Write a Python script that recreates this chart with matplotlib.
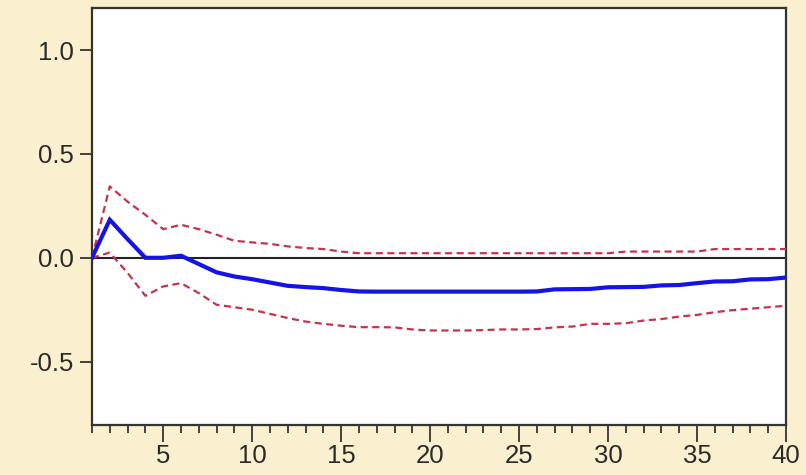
import matplotlib
matplotlib.use("Agg")
import matplotlib.pyplot as plt
from matplotlib.ticker import MultipleLocator

periods = list(range(1, 41))
response = [0.0, 0.183, 0.09, 0.0, 0.0, 0.01, -0.03, -0.07, -0.09, -0.103,
            -0.119, -0.135, -0.141, -0.146, -0.155, -0.162, -0.163, -0.163, -0.163, -0.163,
            -0.163, -0.163, -0.163, -0.163, -0.163, -0.162, -0.152, -0.151, -0.150, -0.142,
            -0.141, -0.140, -0.133, -0.131, -0.122, -0.114, -0.113, -0.104, -0.103, -0.095]
upper = [0.0, 0.344, 0.27, 0.207, 0.138, 0.159, 0.138, 0.111, 0.082, 0.074,
         0.067, 0.055, 0.047, 0.042, 0.030, 0.022, 0.022, 0.022, 0.022, 0.022,
         0.022, 0.022, 0.022, 0.022, 0.022, 0.022, 0.022, 0.022, 0.022, 0.022,
         0.030, 0.030, 0.030, 0.030, 0.030, 0.042, 0.042, 0.042, 0.042, 0.042]
lower = [0.0, 0.025, -0.073, -0.183, -0.138, -0.122, -0.17, -0.226, -0.238, -0.25,
         -0.27, -0.29, -0.307, -0.318, -0.327, -0.334, -0.334, -0.335, -0.345, -0.35,
         -0.35, -0.35, -0.348, -0.345, -0.345, -0.343, -0.335, -0.331, -0.318, -0.318,
         -0.315, -0.302, -0.295, -0.283, -0.275, -0.262, -0.252, -0.245, -0.238, -0.231]
y_ticks = [-0.5, 0.0, 0.5, 1.0]
x_major = [5, 10, 15, 20, 25, 30, 35, 40]

bg = "#FAF0CF"
fig = plt.figure(figsize=(8.06, 4.75), dpi=100, facecolor=bg)
ax = fig.add_axes([92/806, 1-425/475, (786-92)/806, (425-7.5)/475])
ax.set_facecolor("white")

ax.axhline(0, color="#222222", lw=1.5, zorder=2)
ax.plot(periods, upper, color="#C8324A", lw=1.6, ls=(0, (3.2, 2.0)), zorder=3)
ax.plot(periods, lower, color="#C8324A", lw=1.6, ls=(0, (3.2, 2.0)), zorder=3)
ax.plot(periods, response, color="#1414E6", lw=3.0, zorder=4, solid_joinstyle="miter")

ax.set_xlim(1, 40)
ax.set_ylim(-0.805, 1.205)
ax.set_yticks(y_ticks)
ax.set_yticklabels(["-0.5", "0.0", "0.5", "1.0"])
ax.set_xticks(x_major)
ax.set_xticklabels([str(v) for v in x_major])
ax.xaxis.set_minor_locator(MultipleLocator(1))

for s in ax.spines.values():
    s.set_color("#333333")
    s.set_linewidth(1.6)

ax.tick_params(axis="y", which="major", direction="out", length=9, width=1.3,
               color="#333333", labelsize=18.5, labelcolor="#2a2a2a", pad=4,
               right=False)
ax.tick_params(axis="x", which="major", direction="out", length=12, width=1.3,
               color="#333333", labelsize=18.5, labelcolor="#2a2a2a", pad=2,
               top=False)
ax.tick_params(axis="x", which="minor", direction="out", length=6, width=1.3,
               color="#333333", top=False)
for lbl in ax.get_xticklabels() + ax.get_yticklabels():
    lbl.set_fontfamily(["Liberation Sans", "DejaVu Sans"])

fig.savefig("out.png", dpi=100, facecolor=bg)
